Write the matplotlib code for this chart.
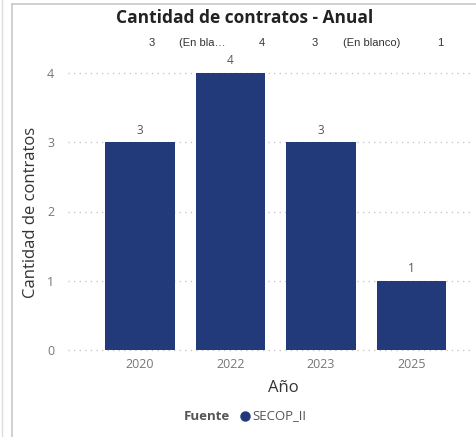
import matplotlib
matplotlib.use("Agg")
import matplotlib.pyplot as plt
from matplotlib.lines import Line2D

years = ["2020", "2022", "2023", "2025"]
counts = [3, 4, 3, 1]
header_texts = ["3", "(En bla…", "4", "3", "(En blanco)", "1"]
header_x = [152, 202, 262, 315, 372, 440]

plt.rcParams['font.family'] = ['Open Sans', 'DejaVu Sans']
W, H = 477, 437
fig = plt.figure(figsize=(W/100, H/100), dpi=100)
fig.patch.set_facecolor('white')

def fx(px): return px / W
def fy(py): return 1 - py / H

left, right, bottom, top = 68, 472, 350, 58
ax = fig.add_axes([fx(left), fy(bottom), fx(right) - fx(left), fy(top) - fy(bottom)])
x = list(range(len(years)))
bars = ax.bar(x, counts, width=0.77, color='#233A7A', zorder=3)
for xi, c in zip(x, counts):
    ax.text(xi, c + 0.08, str(c), ha='center', va='bottom', fontsize=8.5, color='#555555')

ax.set_xlim((left - 140) / 90.5, (right - 140) / 90.5)
ax.set_ylim(0, (bottom - top) / ((350 - 73) / 4))
ax.set_yticks([0, 1, 2, 3, 4])
ax.set_xticks(x)
ax.set_xticklabels(years)
ax.tick_params(axis='both', length=0, labelsize=9, colors='#777777')
ax.tick_params(axis='y', pad=10)
ax.tick_params(axis='x', pad=6)
ax.yaxis.grid(True, linestyle=(0, (1, 3)), color='#c8c8c8', linewidth=1)
for gl in ax.get_ygridlines():
    gl.set_clip_on(False)
ax.set_axisbelow(True)
for s in ax.spines.values():
    s.set_visible(False)

fig.text(fx(31), fy(212), "Cantidad de contratos", rotation=90, ha='center', va='center',
         fontsize=12, color='#333333')
fig.text(fx(283), fy(388), "Año", ha='center', va='center', fontsize=12, color='#333333')
fig.text(fx(245), fy(18), "Cantidad de contratos - Anual", ha='center', va='center',
         fontsize=12.5, fontweight='bold', color='#222222')
for t, px in zip(header_texts, header_x):
    fig.text(fx(px), fy(43), t, ha='center', va='center', fontsize=8,
             color='#333333', family=['Liberation Sans', 'DejaVu Sans'])

# legend
fig.text(fx(230), fy(416), "Fuente", ha='right', va='center', fontsize=9.5,
         fontweight='bold', color='#555555')
fig.add_artist(Line2D([fx(245)], [fy(416)], marker='o', markersize=6.5,
                      color='#233A7A', transform=fig.transFigure))
fig.text(fx(252), fy(416), "SECOP_II", ha='left', va='center', fontsize=9.5, color='#555555')

# borders
fig.add_artist(Line2D([fx(12), fx(12)], [0, fy(4)], color='#c8c8c8', lw=1.2, transform=fig.transFigure))
fig.add_artist(Line2D([fx(12), 1], [fy(4), fy(4)], color='#c8c8c8', lw=1.2, transform=fig.transFigure))
fig.add_artist(Line2D([fx(2), fx(2)], [0, 1], color='#dddddd', lw=1, transform=fig.transFigure))

fig.savefig("out.png", dpi=100, facecolor='white')
